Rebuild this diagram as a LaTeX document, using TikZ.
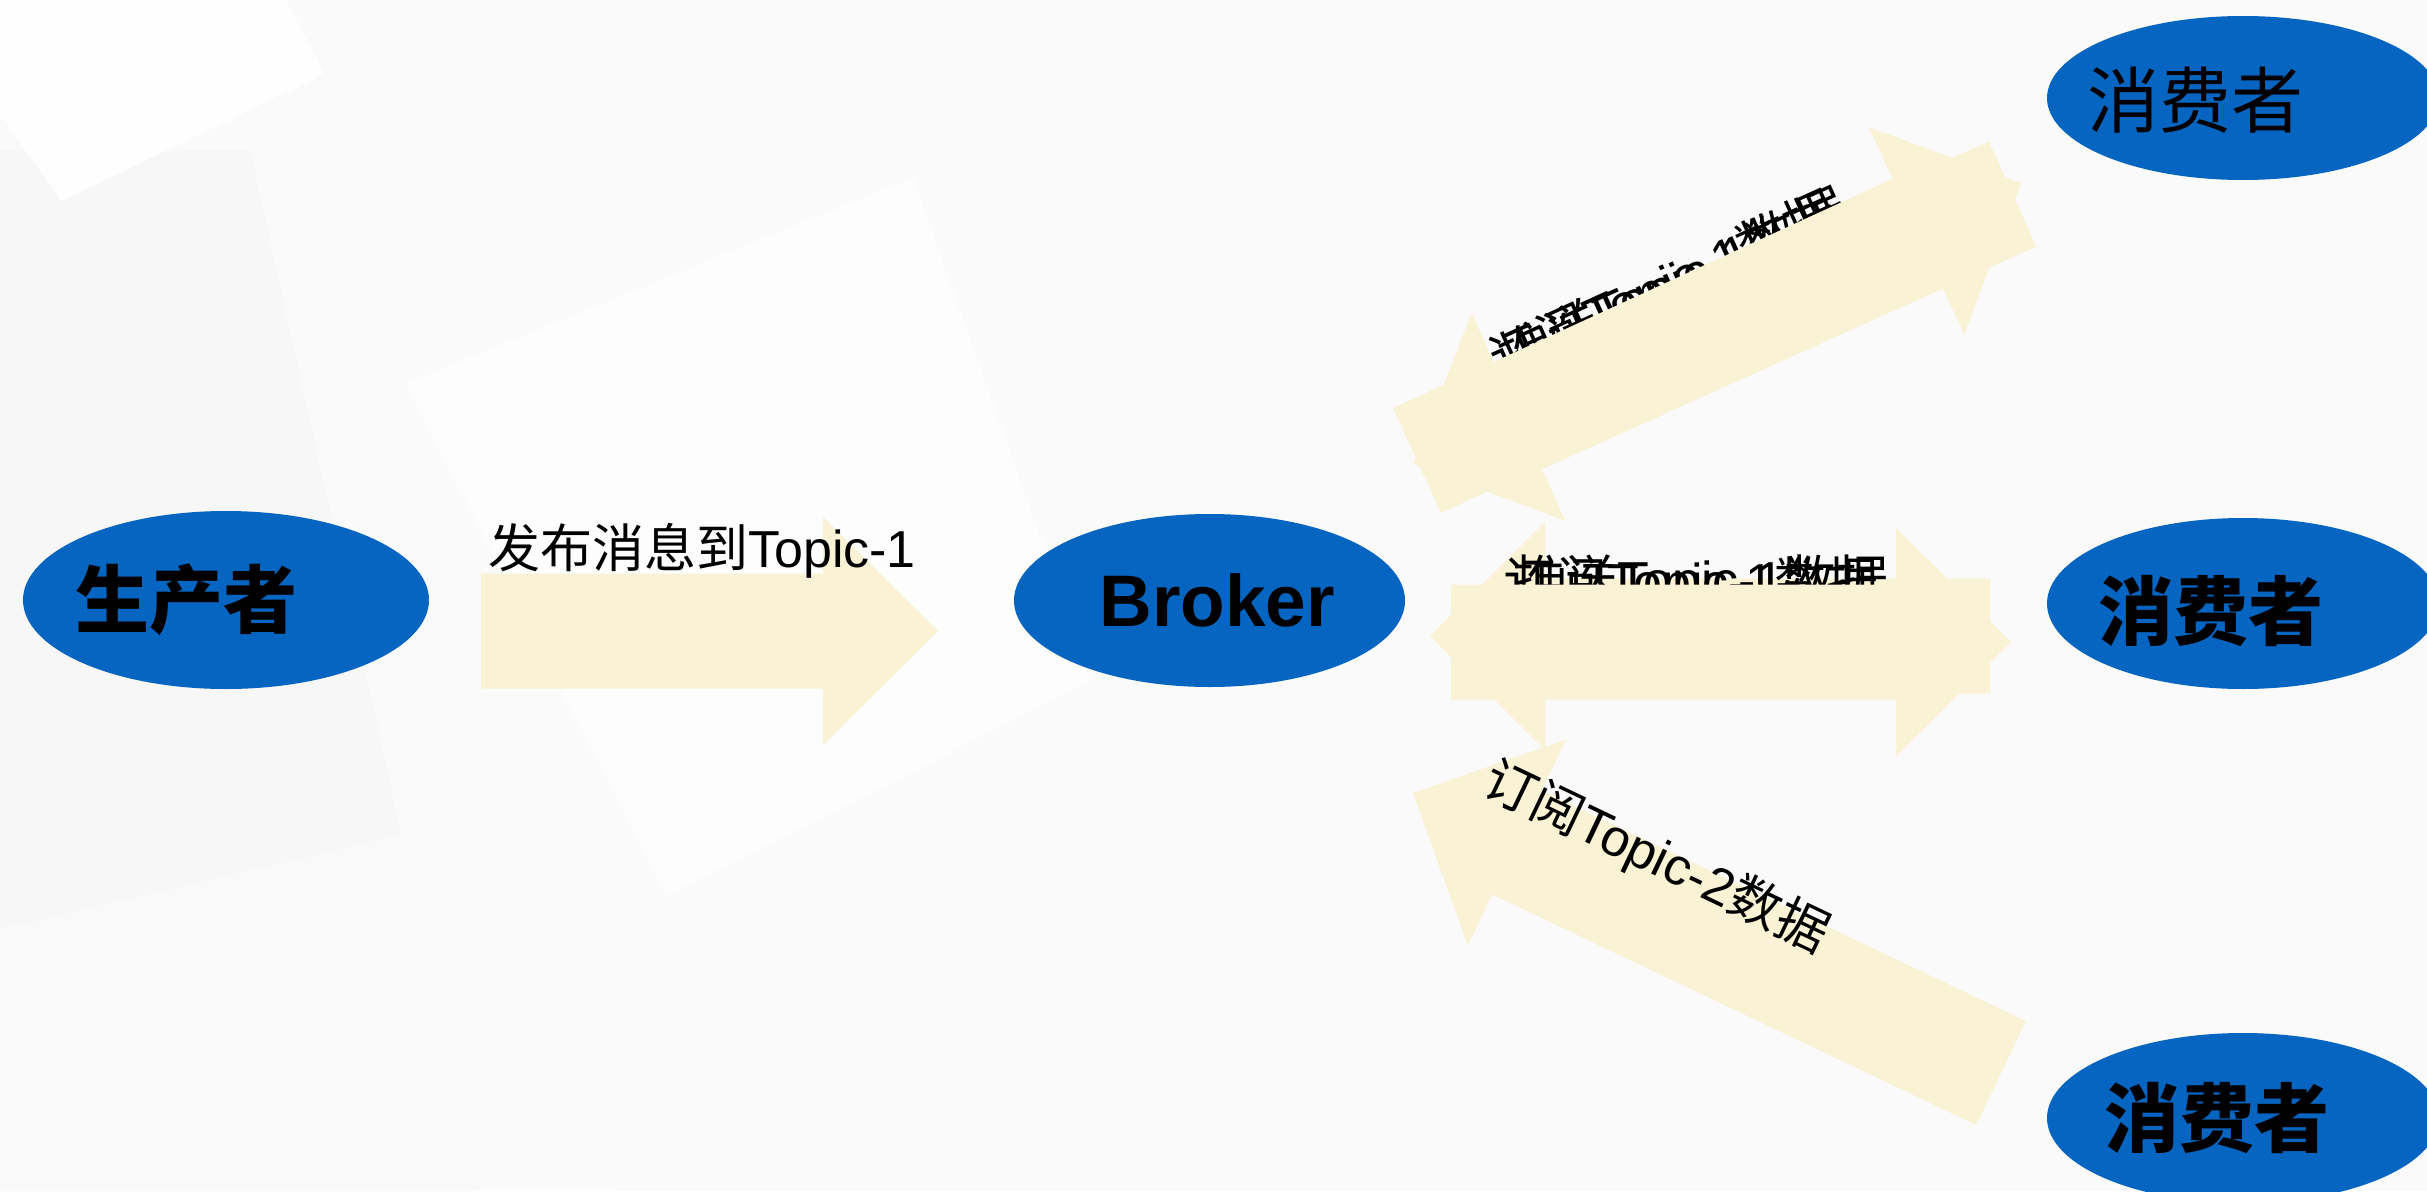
\documentclass[tikz,border=0pt]{standalone}
\usepackage{fontspec}
\setmainfont{Liberation Sans}
\newfontfamily\cjk{Noto Sans CJK SC}
\usetikzlibrary{calc,shapes.geometric}
\definecolor{bgc}{HTML}{FAFAFA}
\definecolor{ellc}{HTML}{0565C0}
\definecolor{arrc}{HTML}{F9F2D4}
\newcommand{\labfont}{\fontsize{52}{60}\selectfont}
\newcommand{\blockarr}[2]{%
  \coordinate (hb) at ($(#2)!115pt!(#1)$);
  \fill[blockarrow] ($(#1)!57.5pt!90:(#2)$) -- ($(hb)!57.5pt!90:(#2)$) -- ($(hb)!114pt!90:(#2)$) -- (#2)
    -- ($(hb)!114pt!-90:(#2)$) -- ($(hb)!57.5pt!-90:(#2)$) -- ($(#1)!57.5pt!-90:(#2)$) -- cycle;
}
\begin{document}
\begin{tikzpicture}[x=1pt,y=-1pt,
  blockarrow/.style={fill=arrc,draw=none},
  oval/.style={ellipse,fill=ellc,draw=none,inner sep=0pt,minimum width=392pt,minimum height=172pt},
  lab/.style={font=\labfont,inner sep=0pt,text=black},
  bigcjk/.style={font=\cjk\bfseries\fontsize{75}{80}\selectfont,inner sep=0pt,text=black},
  thincjk/.style={font=\cjk\fontsize{72}{80}\selectfont,inner sep=0pt,text=black}]
% background
\useasboundingbox (0,0) rectangle (2427,1191);
\fill[bgc] (0,0) rectangle (2427,1191);
\fill[black!3] (0,150) -- (250,150) -- (480,1191) -- (0,1191) -- cycle;
\fill[white,opacity=0.9] (0,0) -- (286,0) -- (325,74) -- (62,201) -- (0,116) -- cycle;
\fill[white,opacity=0.7] (406,384) -- (913,178) -- (1091,681) -- (666,895) -- cycle;
\fill[black!2,opacity=0.8] (0,929) -- (464,820) -- (619,1191) -- (0,1191) -- cycle;
% ellipses
\node[oval,minimum width=406pt,minimum height=178pt] (prod) at (226,600) {};
\node[oval,minimum width=391pt,minimum height=173pt] (broker) at (1209.5,600.5) {};
\node[oval,minimum height=164pt] (c1) at (2243,98) {};
\node[oval,minimum height=171pt] (c2) at (2243,603.5) {};
\node[oval,minimum height=170pt] (c3) at (2243,1118) {};
\node[bigcjk,font=\cjk\bfseries\fontsize{74}{80}\selectfont] (prodtext) at (186,600) {生产者};
\node[font=\bfseries\fontsize{73}{80}\selectfont,inner sep=0pt] (brokertext) at (1217,600) {Broker};
\node[thincjk] (c1text) at (2195,100) {消费者};
\node[bigcjk] (c2text) at (2211,611) {消费者};
\node[bigcjk] (c3text) at (2217,1118) {消费者};
% producer arrow
\coordinate (pa) at (481,631);
\coordinate (pb) at (938,631);
\blockarr{pa}{pb}
\node[lab,anchor=base west] (plab) at (488,567) {{\cjk 发布消息到}Topic-1};
% top double arrow
\coordinate (tbT) at (2012.5,194);
\coordinate (tbP) at (1413.5,464);
\coordinate (taT) at (1417,460.5);
\coordinate (taP) at (2021,183);
\blockarr{tbT}{tbP}
\node[lab,rotate=24.5,anchor=base west] (tlab1) at (1500,380) {{\cjk 订阅}Topic-1{\cjk 数据}};
\node[lab,rotate=24.5,anchor=base west] (tlab2) at (1510,377) {{\cjk 推送}Topic-1{\cjk 数据}};
\blockarr{taT}{taP}
% middle double arrow
\coordinate (mbT) at (1990,636);
\coordinate (mbP) at (1430,636);
\coordinate (maT) at (1451,642);
\coordinate (maP) at (2011,642);
\blockarr{mbT}{mbP}
\node[lab,anchor=base west] (mlab1) at (1503,600) {{\cjk 订阅}Topic-1{\cjk 数据}};
\node[lab,anchor=base west] (mlab2) at (1513,598) {{\cjk 推送}Topic-1{\cjk 数据}};
\blockarr{maT}{maP}
% bottom arrow
\coordinate (bT) at (2001,1073);
\coordinate (bP) at (1413,793);
\blockarr{bT}{bP}
\node[lab,rotate=-25.5] (blab) at (1656,858) {{\cjk 订阅}Topic-2{\cjk 数据}};
\end{tikzpicture}
\end{document}
